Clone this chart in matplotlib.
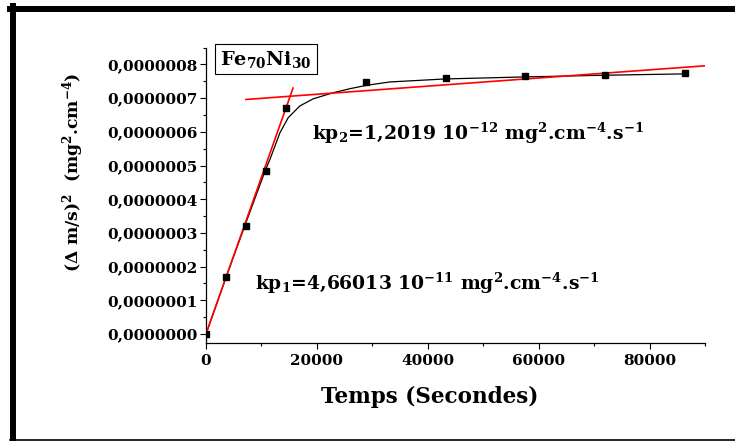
import matplotlib
matplotlib.use("Agg")
import matplotlib.pyplot as plt
from matplotlib.lines import Line2D
from matplotlib.ticker import MultipleLocator, FuncFormatter

plt.rcParams['font.family'] = ['DejaVu Serif']
plt.rcParams['font.weight'] = 'bold'
plt.rcParams['mathtext.fontset'] = 'custom'
plt.rcParams['mathtext.rm'] = 'DejaVu Serif:bold'
plt.rcParams['mathtext.it'] = 'DejaVu Serif:bold'
plt.rcParams['mathtext.bf'] = 'DejaVu Serif:bold'
plt.rcParams['mathtext.default'] = 'rm'

# measured points (time in s, (dm/S)^2 in mg^2.cm^-4)
t_pts = [0, 3600, 7200, 10800, 14400, 28800, 43200, 57600, 72000, 86400]
y_pts = [0.0, 0.17e-6, 0.32e-6, 0.485e-6, 0.67e-6, 0.747e-6, 0.760e-6,
         0.765e-6, 0.770e-6, 0.774e-6]

# black fitted curve
t_fit = [0, 3600, 7200, 10800, 11530, 13330, 14830, 16940, 19340, 22940,
         25950, 28950, 33150, 43200, 57600, 72000, 86400]
y_fit = [0.0, 0.168e-6, 0.330e-6, 0.490e-6, 0.518e-6, 0.597e-6, 0.642e-6,
         0.677e-6, 0.698e-6, 0.716e-6, 0.728e-6, 0.738e-6, 0.748e-6,
         0.757e-6, 0.763e-6, 0.768e-6, 0.772e-6]

# red linear regimes (end points)
lin1_t = [0, 15700]
lin1_y = [0.0, 0.730e-6]
lin2_t = [7200, 90000]
lin2_y = [0.696e-6, 0.796e-6]

kp1_label = "kp$_1$=4,66013 10$^{-11}$ mg$^2$.cm$^{-4}$.s$^{-1}$"
kp2_label = "kp$_2$=1,2019 10$^{-12}$ mg$^2$.cm$^{-4}$.s$^{-1}$"
alloy = "Fe$_{70}$Ni$_{30}$"
ylab = "(\u0394 m/s)$^2$  (mg$^2$.cm$^{-4}$)"

W, H = 735, 441
fig = plt.figure(figsize=(W / 100, H / 100), dpi=100)
ax = fig.add_axes([206 / W, 1 - 342.7 / H, (705 - 206) / W, (342.7 - 47.6) / H])

ax.plot(t_fit, y_fit, color='black', lw=0.9, zorder=2)
ax.plot(lin1_t, lin1_y, color='red', lw=1.2, zorder=3)
ax.plot(lin2_t, lin2_y, color='red', lw=1.2, zorder=3)
ax.plot(t_pts, y_pts, 's', color='black', ms=5, zorder=4)

ax.set_xlim(0, 90000)
ax.set_ylim(-0.026e-6, 0.85e-6)
ax.xaxis.set_major_locator(MultipleLocator(20000))
ax.xaxis.set_minor_locator(MultipleLocator(10000))
ax.yaxis.set_major_locator(MultipleLocator(0.1e-6))
ax.yaxis.set_minor_locator(MultipleLocator(0.05e-6))
ax.yaxis.set_major_formatter(FuncFormatter(
    lambda v, p: f"{abs(round(v, 9)):.7f}".replace('.', ',')))
ax.xaxis.set_major_formatter(FuncFormatter(lambda v, p: f"{int(round(v))}"))

for s in ['top', 'right']:
    ax.spines[s].set_visible(False)
for s in ['left', 'bottom']:
    ax.spines[s].set_linewidth(0.9)
ax.tick_params(which='both', direction='out', width=0.8, labelsize=11)
ax.tick_params(which='major', length=4)
ax.tick_params(which='minor', length=2.5)
ax.tick_params(axis='x', pad=4)
ax.tick_params(axis='y', pad=2)
for lab in ax.get_xticklabels() + ax.get_yticklabels():
    lab.set_fontweight('bold')

fig.text(430 / W, 1 - 397 / H, "Temps (Secondes)", fontsize=15.5,
         fontweight='bold', ha='center', va='center')
fig.text(73 / W, 1 - 172 / H, ylab, fontsize=12.3, fontweight='bold',
         rotation=90, ha='center', va='center')

fig.text(255 / W, 1 - 283 / H, kp1_label, fontsize=13.5, fontweight='bold',
         ha='left', va='center')
fig.text(312 / W, 1 - 133 / H, kp2_label, fontsize=13.5, fontweight='bold',
         ha='left', va='center')
fig.text(266 / W, 1 - 59 / H, alloy, fontsize=14, fontweight='bold',
         ha='center', va='center',
         bbox=dict(boxstyle='square,pad=0.25', fc='white', ec='black', lw=0.8))

# frame around the picture (left, top, bottom)
fig.add_artist(Line2D([13 / W, 13 / W], [1 - 6 / H, 1 - 440 / H],
                      transform=fig.transFigure, color='black', lw=4.3))
fig.add_artist(Line2D([10 / W, 1.0], [1 - 9 / H, 1 - 9 / H],
                      transform=fig.transFigure, color='black', lw=4.3))
fig.add_artist(Line2D([10 / W, 1.0], [1 - 439.5 / H, 1 - 439.5 / H],
                      transform=fig.transFigure, color='black', lw=1.2))

fig.savefig("out.png", dpi=100)
